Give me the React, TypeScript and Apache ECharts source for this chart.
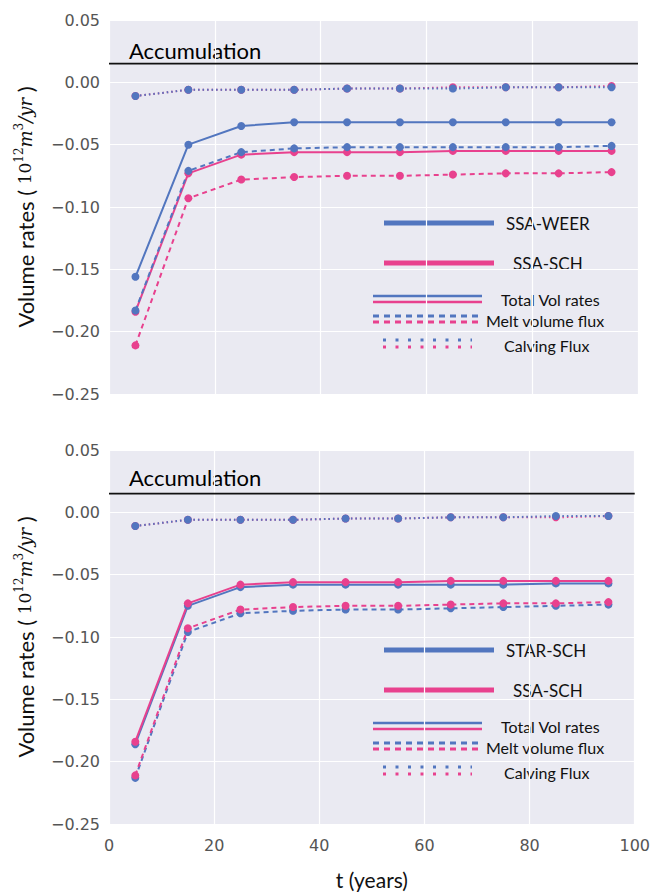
import React, { useEffect, useRef } from "react";
import * as echarts from "echarts";

// ---- data ----
const years = [5, 15, 25, 35, 45, 55, 65, 75, 85, 95];
const xTicks = [0, 20, 40, 60, 80, 100];
const yTicks = [0.05, 0.0, -0.05, -0.1, -0.15, -0.2, -0.25];
const accumulation = 0.015;

// top panel: SSA-WEER (blue)
const weerTotal = [-0.156, -0.05, -0.035, -0.032, -0.032, -0.032, -0.032, -0.032, -0.032, -0.032];
const weerMelt = [-0.183, -0.071, -0.056, -0.053, -0.052, -0.052, -0.052, -0.052, -0.052, -0.051];
const weerCalving = [-0.011, -0.006, -0.006, -0.006, -0.005, -0.005, -0.005, -0.004, -0.004, -0.004];

// SSA-SCH (pink) – both panels
const schTotal = [-0.184, -0.073, -0.058, -0.056, -0.056, -0.056, -0.055, -0.055, -0.055, -0.055];
const schMelt = [-0.211, -0.093, -0.078, -0.076, -0.075, -0.075, -0.074, -0.073, -0.073, -0.072];
const schCalving = [-0.011, -0.006, -0.006, -0.006, -0.005, -0.005, -0.004, -0.004, -0.004, -0.003];

// bottom panel: STAR-SCH (blue)
const starTotal = [-0.186, -0.075, -0.06, -0.058, -0.058, -0.058, -0.058, -0.058, -0.057, -0.057];
const starMelt = [-0.213, -0.096, -0.081, -0.079, -0.078, -0.078, -0.077, -0.076, -0.075, -0.074];
const starCalving = [-0.011, -0.006, -0.006, -0.006, -0.005, -0.005, -0.004, -0.004, -0.003, -0.003];

const topNames = ["SSA-WEER", "SSA-SCH"];
const bottomNames = ["STAR-SCH", "SSA-SCH"];
const styleNames = ["Total Vol rates", "Melt volume flux", "Calving Flux"];
const accLabel = "Accumulation";

const BLUE = "#5276BF";
const PINK = "#E8418E";
const SANS = "Lato, 'Open Sans', sans-serif";

const pairs = (ys: number[]) => years.map((t, i) => [t, ys[i]]);

function fmt(v: number) {
  if (Math.abs(v) < 1e-9) return "0.00";
  return (v < 0 ? "\u2212" : "") + Math.abs(v).toFixed(2);
}

function lineSeries(name: string, ys: number[], color: string, kind: string, gi: number) {
  const type = kind === "solid" ? "solid" : kind === "dash" ? [5, 4] : [1.5, 3];
  return {
    type: "line",
    name,
    xAxisIndex: gi,
    yAxisIndex: gi,
    data: pairs(ys),
    symbol: "circle",
    symbolSize: 8,
    itemStyle: { color },
    lineStyle: { color, width: 2, type },
    z: 3,
  };
}

function accLine(gi: number) {
  return {
    type: "line",
    name: "accumulation",
    xAxisIndex: gi,
    yAxisIndex: gi,
    data: [
      [xTicks[0], accumulation],
      [xTicks[xTicks.length - 1], accumulation],
    ],
    symbol: "none",
    silent: true,
    lineStyle: { color: "#111", width: 1.6, type: "solid" },
    z: 2,
  };
}

function legendGraphics(dy: number, names: string[]) {
  const els: any[] = [];
  const font = (size: number) => `${size}px Lato, 'Open Sans', sans-serif`;
  els.push({
    type: "text",
    x: 129,
    y: 61 + dy,
    style: { text: accLabel, font: font(22), fill: "#000", verticalAlign: "bottom" },
  });
  const big = [
    { y: 223, color: BLUE, tx: 506, text: names[0] },
    { y: 263, color: PINK, tx: 513, text: names[1] },
  ];
  big.forEach((b) => {
    els.push({
      type: "line",
      shape: { x1: 384, y1: b.y + dy, x2: 494, y2: b.y + dy },
      style: { stroke: b.color, lineWidth: 5 },
    });
    els.push({
      type: "text",
      x: b.tx,
      y: b.y + dy,
      style: { text: b.text, font: font(17), fill: "#111", verticalAlign: "middle" },
    });
  });
  const rows = [
    { y1: 296, y2: 302, x1: 373, x2: 482, dash: null as any, tx: 501, ty: 299, text: styleNames[0] },
    { y1: 316, y2: 322, x1: 373, x2: 482, dash: [6, 5], tx: 486, ty: 320, text: styleNames[1] },
    { y1: 340, y2: 347, x1: 383, x2: 472, dash: [3, 9.5], tx: 504, ty: 345, text: styleNames[2] },
  ];
  rows.forEach((r) => {
    [
      { y: r.y1, c: BLUE },
      { y: r.y2, c: PINK },
    ].forEach((l) => {
      els.push({
        type: "line",
        shape: { x1: r.x1, y1: l.y + dy, x2: r.x2, y2: l.y + dy },
        style: { stroke: l.c, lineWidth: r.dash ? 3 : 2.5, lineDash: r.dash || undefined },
      });
    });
    els.push({
      type: "text",
      x: r.tx,
      y: r.ty + dy,
      style: { text: r.text, font: font(16), fill: "#111", verticalAlign: "middle" },
    });
  });
  return els;
}

const yName = "{a|Volume rates ( }{b|10}{s|12}{i|m}{s|3}{i|/yr}{a| )}";
const yRich = {
  a: { fontFamily: SANS, fontSize: 22, color: "#111" },
  b: { fontFamily: "'DejaVu Serif', serif", fontSize: 17, color: "#111" },
  i: { fontFamily: "'DejaVu Serif', serif", fontStyle: "italic", fontSize: 18, color: "#111" },
  s: { fontFamily: "'DejaVu Serif', serif", fontSize: 12, color: "#111", padding: [0, 0, 12, 0] },
};

export default function App() {
  const ref = useRef<HTMLDivElement>(null);
  useEffect(() => {
    if (!ref.current) return;
    const chart = echarts.init(ref.current, undefined, { renderer: "svg" });
    const grids = [
      { left: 109, width: 529, top: 20, height: 374 },
      { left: 109, width: 529, top: 450, height: 374 },
    ].map((g) => ({ ...g, show: true, backgroundColor: "#EAEAF2", borderWidth: 0 }));

    const xAxes = [0, 1].map((gi) => ({
      type: "value",
      gridIndex: gi,
      min: xTicks[0],
      max: xTicks[xTicks.length - 1],
      interval: 20,
      axisLine: { show: false },
      axisTick: { show: false },
      splitLine: { show: true, lineStyle: { color: "#ffffff", width: 1.2 } },
      axisLabel: {
        show: gi === 1,
        color: "#555",
        fontFamily: "'DejaVu Sans', sans-serif",
        fontSize: 16,
        margin: 13,
      },
      name: gi === 1 ? "t (years)" : "",
      nameLocation: "middle",
      nameGap: 45,
      nameTextStyle: { fontFamily: SANS, fontSize: 21, color: "#111" },
    }));

    const yAxes = [0, 1].map((gi) => ({
      type: "value",
      gridIndex: gi,
      min: yTicks[yTicks.length - 1],
      max: yTicks[0],
      interval: 0.05,
      axisLine: { show: false },
      axisTick: { show: false },
      splitLine: { show: true, lineStyle: { color: "#ffffff", width: 1.2 } },
      axisLabel: {
        color: "#555",
        fontFamily: "'DejaVu Sans', sans-serif",
        fontSize: 16,
        margin: 9,
        formatter: (v: number) => fmt(v),
      },
      name: yName,
      nameLocation: "middle",
      nameGap: 72,
      nameTextStyle: { rich: yRich },
    }));

    const series = [
      accLine(0),
      lineSeries("SSA-SCH total", schTotal, PINK, "solid", 0),
      lineSeries("SSA-SCH melt", schMelt, PINK, "dash", 0),
      lineSeries("SSA-SCH calving", schCalving, PINK, "dot", 0),
      lineSeries("SSA-WEER total", weerTotal, BLUE, "solid", 0),
      lineSeries("SSA-WEER melt", weerMelt, BLUE, "dash", 0),
      lineSeries("SSA-WEER calving", weerCalving, BLUE, "dot", 0),
      accLine(1),
      lineSeries("SSA-SCH calving 2", schCalving, PINK, "dot", 1),
      lineSeries("STAR-SCH total", starTotal, BLUE, "solid", 1),
      lineSeries("STAR-SCH melt", starMelt, BLUE, "dash", 1),
      lineSeries("STAR-SCH calving", starCalving, BLUE, "dot", 1),
      lineSeries("SSA-SCH total 2", schTotal, PINK, "solid", 1),
      lineSeries("SSA-SCH melt 2", schMelt, PINK, "dash", 1),
    ];

    chart.setOption({
      animation: false,
      backgroundColor: "#ffffff",
      grid: grids,
      xAxis: xAxes,
      yAxis: yAxes,
      series,
      graphic: [...legendGraphics(0, topNames), ...legendGraphics(427, bottomNames)],
    });
    return () => chart.dispose();
  }, []);
  return (
    <div
      ref={ref}
      style={{ position: "fixed", left: 0, top: 0, width: 653, height: 896 }}
    />
  );
}
